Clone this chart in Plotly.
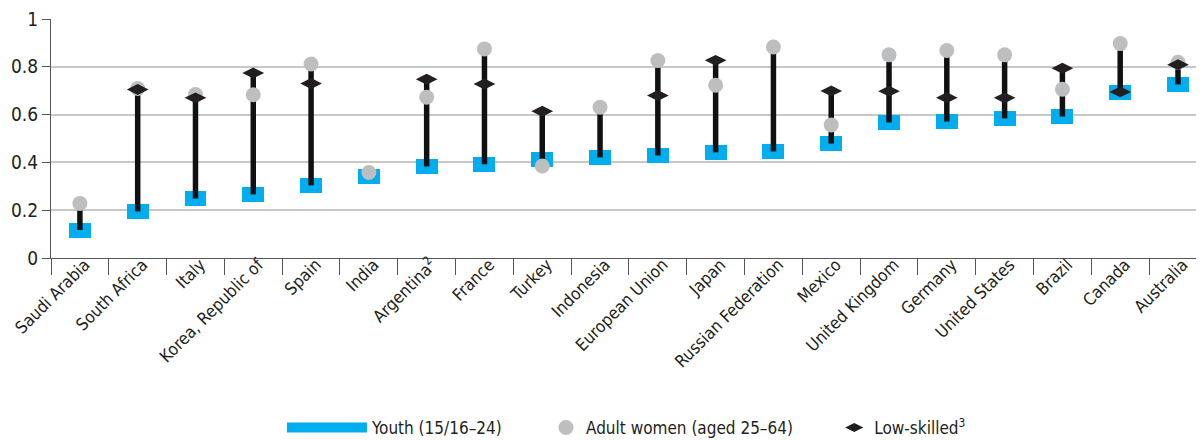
import plotly.graph_objects as go

categories = ["Saudi Arabia", "South Africa", "Italy", "Korea, Republic of", "Spain", "India",
              "Argentina<sup>2</sup>", "France", "Turkey", "Indonesia", "European Union", "Japan",
              "Russian Federation", "Mexico", "United Kingdom", "Germany", "United States",
              "Brazil", "Canada", "Australia"]
youth = [0.117, 0.195, 0.249, 0.266, 0.304, 0.340, 0.383, 0.392, 0.414, 0.421, 0.429, 0.442,
         0.446, 0.479, 0.567, 0.571, 0.584, 0.592, 0.692, 0.726]
adult_women = [0.228, 0.709, 0.684, 0.683, 0.812, 0.358, 0.673, 0.875, 0.385, 0.631, 0.826, 0.723,
               0.883, 0.557, 0.850, 0.868, 0.850, 0.706, 0.897, 0.819]
low_skilled = [None, 0.705, 0.670, 0.774, 0.730, None, 0.748, 0.728, 0.614, None, 0.680, 0.827,
               None, 0.699, 0.698, 0.671, 0.670, 0.794, 0.695, 0.809]
y_ticks = [0, 0.2, 0.4, 0.6, 0.8, 1]
y_tick_labels = ["0", "0.2", "0.4", "0.6", "0.8", "1"]

BLUE = "#00AEEF"
GRAY = "#BDBEC0"
BLACK = "#231F20"
FONT = "DejaVu Sans Condensed, DejaVu Sans, sans-serif"

# connector lines from min to max per category
lx, ly = [], []
for c, a, b, d in zip(categories, youth, adult_women, low_skilled):
    vals = [v for v in (a, b, d) if v is not None]
    lx += [c, c, None]
    ly += [min(vals), max(vals), None]

fig = go.Figure()
fig.add_trace(go.Scatter(x=lx, y=ly, mode="lines", line=dict(color="#111111", width=5.5),
                         showlegend=False, hoverinfo="skip", cliponaxis=False))
rect_h = 0.063
fig.add_trace(go.Bar(x=categories, y=[rect_h] * len(youth), base=[v - rect_h / 2 for v in youth],
                     width=0.38, marker=dict(color=BLUE, line=dict(width=0)), showlegend=False,
                     cliponaxis=False))
fig.add_trace(go.Scatter(x=categories, y=adult_women, mode="markers",
                         marker=dict(symbol="circle", size=15, color=GRAY), showlegend=False,
                         cliponaxis=False))
fig.add_trace(go.Scatter(x=categories, y=low_skilled, mode="markers",
                         marker=dict(symbol="diamond-wide", size=15.5, color=BLACK), showlegend=False,
                         cliponaxis=False))

# legend entries
fig.add_trace(go.Scatter(x=[None], y=[None], mode="lines", name="Youth (15/16–24)",
                         line=dict(color=BLUE, width=14), legend="legend"))
fig.add_trace(go.Scatter(x=[None], y=[None], mode="markers", name="Adult women (aged 25–64)",
                         marker=dict(symbol="circle", size=15, color=GRAY), legend="legend2"))
fig.add_trace(go.Scatter(x=[None], y=[None], mode="markers", name="Low-skilled<sup>3</sup>",
                         marker=dict(symbol="diamond-wide", size=13, color=BLACK), legend="legend3"))

leg_common = dict(orientation="h", y=-0.711, yanchor="middle", xanchor="left",
                  font=dict(size=17), bgcolor="rgba(0,0,0,0)")

# the page body adds an 8px margin, so the figure is 8px smaller than the window
fig.update_layout(
    width=1196, height=432,
    margin=dict(l=43, r=0, t=11, b=182, autoexpand=False),
    plot_bgcolor="white", paper_bgcolor="white",
    font=dict(family=FONT, size=17, color="#231F20"),
    xaxis=dict(type="category", range=[-0.5, 19.45], tickangle=-45, tickson="boundaries",
               ticks="outside", ticklen=16, tickcolor="#555555", tickwidth=1.2,
               showline=True, linecolor="#555555", linewidth=1.2, showgrid=False,
               tickfont=dict(size=17), automargin=False, ticklabelstandoff=-11,
               ticklabelshift=5, ticklabeloverflow="allow"),
    yaxis=dict(range=[0, 1], tickvals=y_ticks, ticktext=y_tick_labels, ticks="outside",
               ticklen=8, tickcolor="#555555", showline=True, linecolor="#555555", linewidth=1.2,
               showgrid=True, gridcolor="#C8C8C8", gridwidth=1.5, zeroline=False,
               tickfont=dict(size=19), automargin=False, ticklabeloverflow="allow"),
    legend=dict(x=0.2003, itemwidth=80, **leg_common),
    legend2=dict(x=0.4293, itemwidth=30, **leg_common),
    legend3=dict(x=0.6793, itemwidth=30, **leg_common),
    bargap=0,
)

fig.write_html("out.html")
